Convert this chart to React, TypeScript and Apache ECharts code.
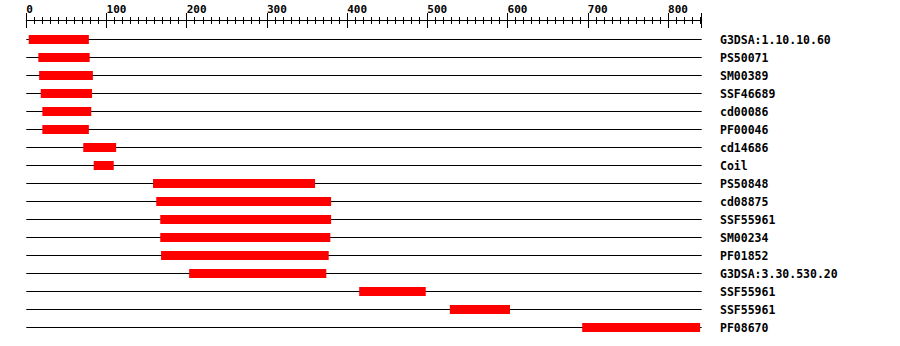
import React, { useEffect, useRef } from "react";
import * as echarts from "echarts";

const labels = [
  "G3DSA:1.10.10.60",
  "PS50071",
  "SM00389",
  "SSF46689",
  "cd00086",
  "PF00046",
  "cd14686",
  "Coil",
  "PS50848",
  "cd08875",
  "SSF55961",
  "SM00234",
  "PF01852",
  "G3DSA:3.30.530.20",
  "SSF55961",
  "SSF55961",
  "PF08670",
];
const starts = [3, 15, 16, 18, 20, 20, 71, 84, 158, 162, 167, 167, 168, 203, 415, 528, 693];
const ends = [78, 79, 83, 82, 81, 78, 112, 109, 360, 380, 380, 379, 377, 374, 498, 603, 840];
const AXIS_MIN = 0;
const AXIS_MAX = 842;
const TICK_INTERVAL = 100;

const FONT = "'DejaVu Sans Mono', 'Liberation Mono', monospace";

export default function App() {
  const ref = useRef<HTMLDivElement>(null);
  useEffect(() => {
    if (!ref.current) return;
    const chart = echarts.init(ref.current, null, { renderer: "svg" });
    const rows = labels.map((_, i) => [i]);
    const bars = labels.map((_, i) => [i, starts[i], ends[i]]);
    const xCommon = {
      type: "value" as const,
      position: "top" as const,
      min: AXIS_MIN,
      max: AXIS_MAX,
      interval: TICK_INTERVAL,
      offset: 10,
      splitLine: { show: false },
    };
    chart.setOption({
      animation: false,
      grid: { left: 26.3, right: 198.3, top: 30.5, bottom: 9.5, containLabel: false },
      xAxis: [
        {
          ...xCommon,
          axisLine: { show: true, lineStyle: { color: "#000", width: 1 } },
          axisTick: { show: true, length: 7.5, inside: false, lineStyle: { color: "#000" } },
          minorTick: { show: true, splitNumber: 10, length: 3.5, lineStyle: { color: "#000" } },
          axisLabel: {
            show: true,
            align: "left",
            margin: 6,
            color: "#000",
            fontFamily: FONT,
            fontWeight: "bold",
            fontSize: 11,
            showMaxLabel: false,
          },
        },
        {
          ...xCommon,
          axisLine: { show: false },
          axisTick: { show: true, length: 7.5, inside: true, lineStyle: { color: "#000" } },
          minorTick: { show: true, splitNumber: 10, length: 3.5, lineStyle: { color: "#000" } },
          axisLabel: { show: false },
        },
      ],
      yAxis: {
        type: "category",
        data: labels,
        inverse: true,
        position: "right",
        axisLine: { show: false },
        axisTick: { show: false },
        splitLine: { show: false },
        axisLabel: {
          interval: 0,
          margin: 18.3,
          align: "left",
          color: "#000",
          fontFamily: FONT,
          fontWeight: "bold",
          fontSize: 11.5,
        },
      },
      series: [
        {
          type: "custom",
          xAxisIndex: 0,
          data: rows,
          renderItem: (params: any, api: any) => {
            const row = api.value(0);
            const a = api.coord([AXIS_MIN, row]);
            const b = api.coord([AXIS_MAX, row]);
            return {
              type: "line",
              shape: { x1: a[0], y1: a[1], x2: b[0], y2: b[1] },
              style: { stroke: "#000", lineWidth: 1 },
            };
          },
          silent: true,
        },
        {
          type: "custom",
          xAxisIndex: 0,
          data: bars,
          renderItem: (params: any, api: any) => {
            const row = api.value(0);
            const s = api.coord([api.value(1), row]);
            const e = api.coord([api.value(2), row]);
            const h = 9;
            return {
              type: "rect",
              shape: { x: s[0], y: s[1] - h / 2, width: e[0] - s[0], height: h },
              style: { fill: "#ff0000" },
            };
          },
          silent: true,
        },
      ],
    });
    return () => chart.dispose();
  }, []);
  return (
    <div
      ref={ref}
      style={{ position: "absolute", left: 0, top: 0, width: 900, height: 346, background: "#fff" }}
    />
  );
}
